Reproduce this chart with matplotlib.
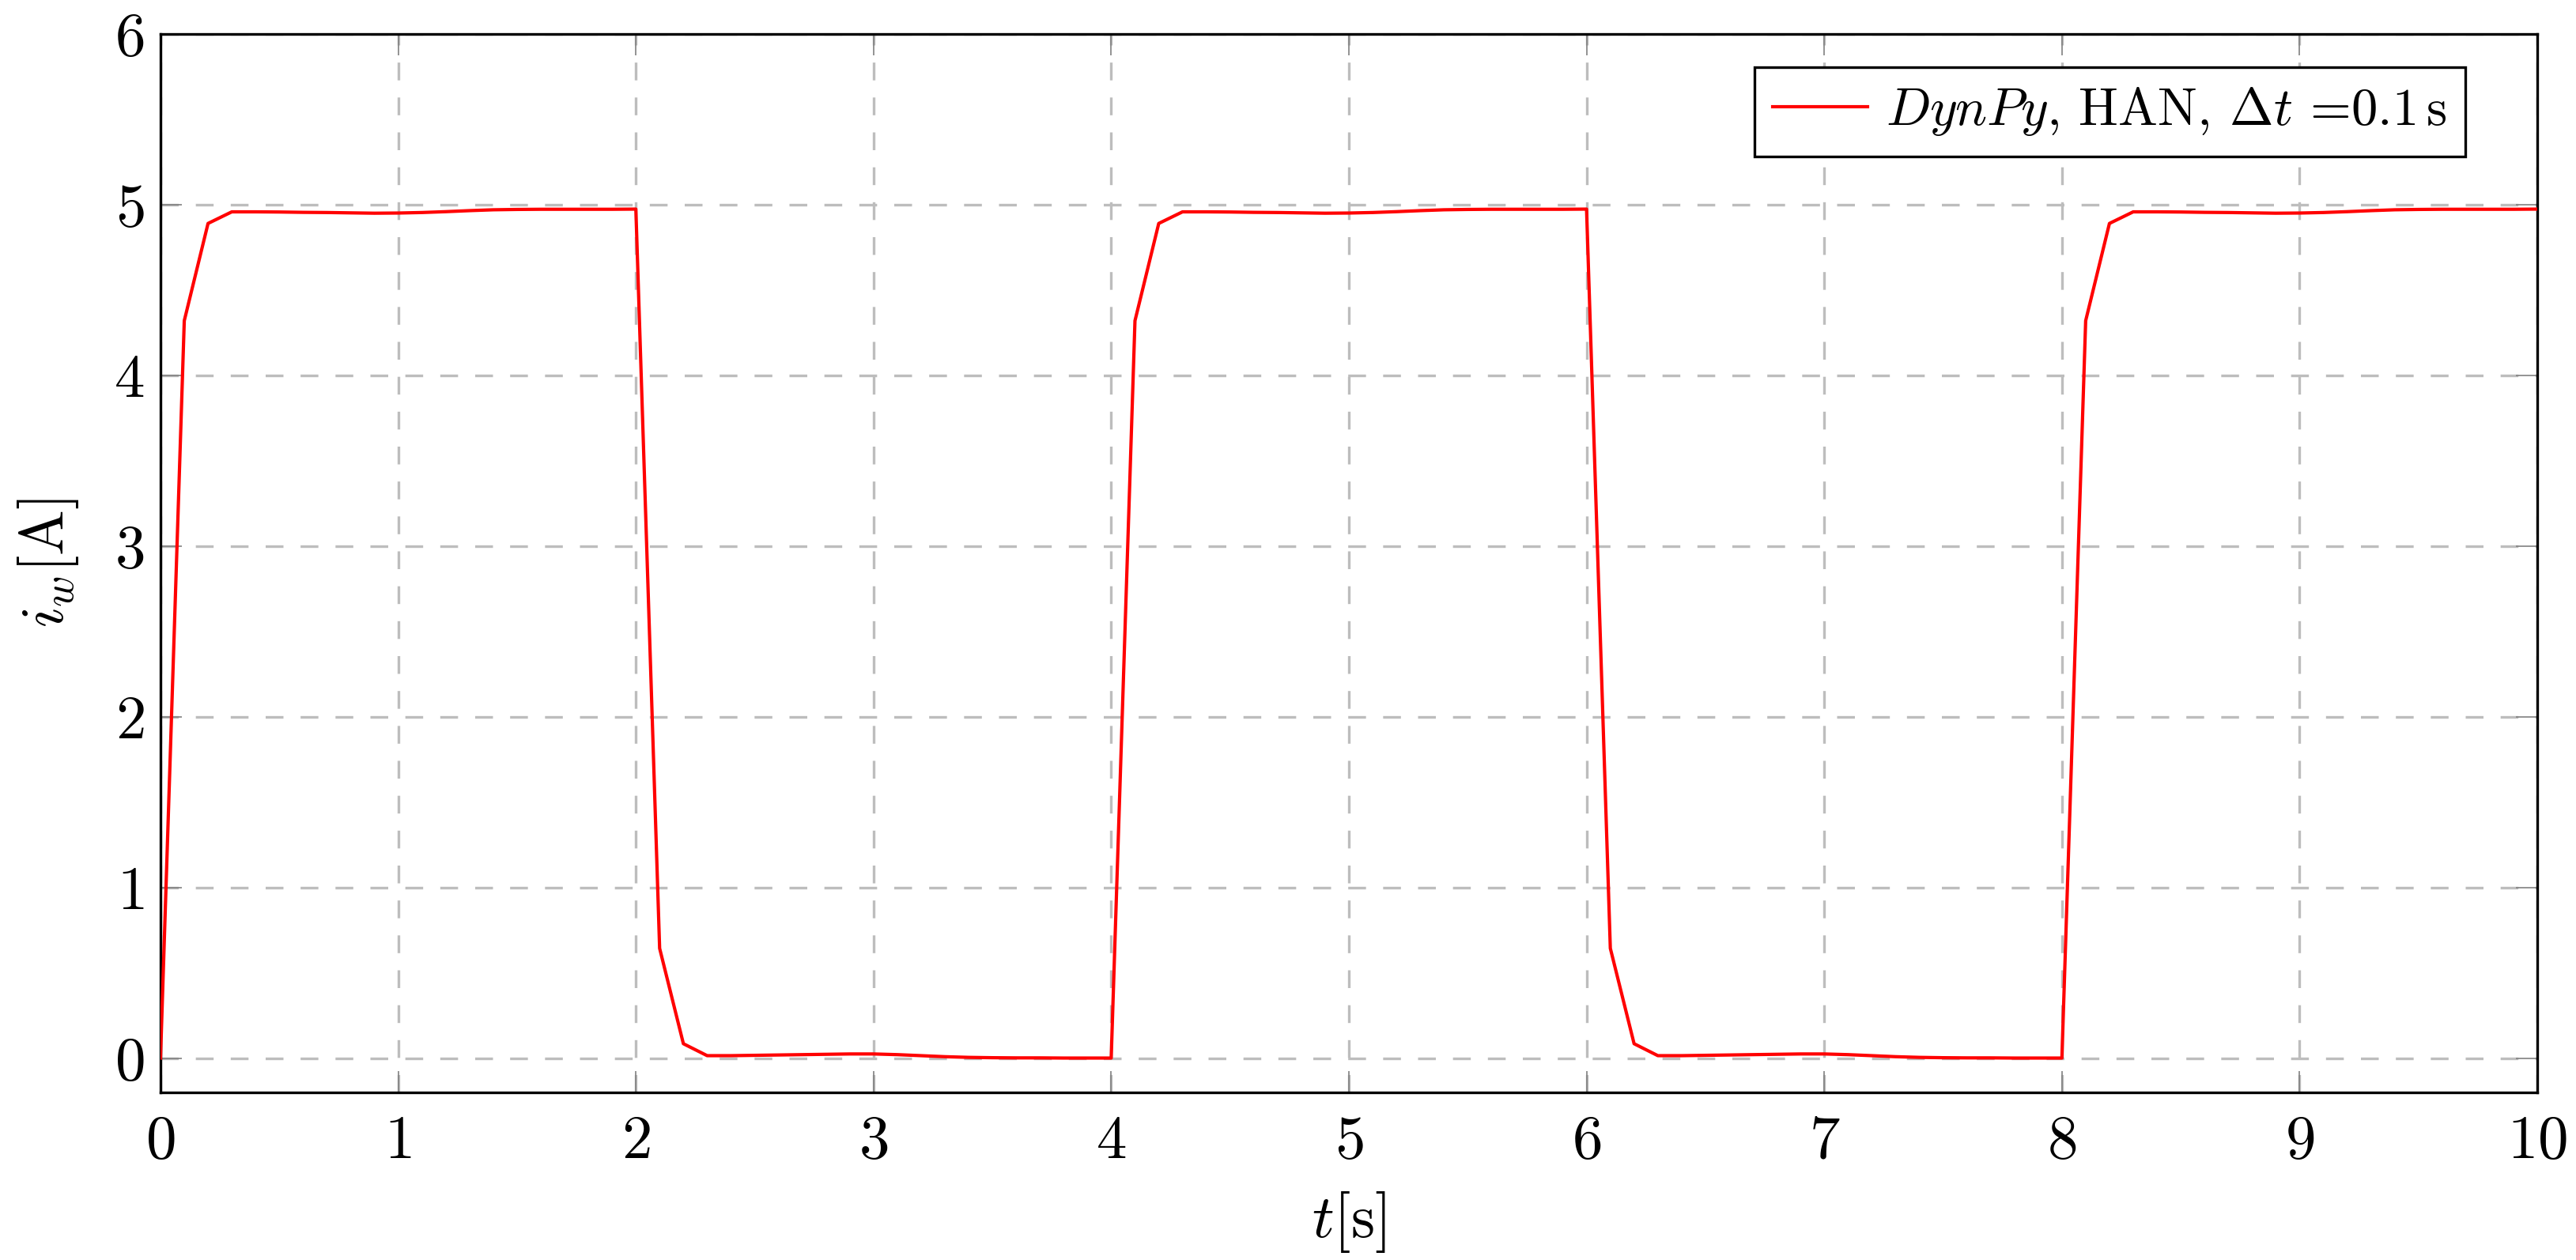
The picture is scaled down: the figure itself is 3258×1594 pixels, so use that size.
import numpy as np
import matplotlib
matplotlib.use("Agg")
import matplotlib.pyplot as plt

plt.rcParams['font.family'] = 'serif'
plt.rcParams['font.serif'] = ['cmr10', 'DejaVu Serif']
plt.rcParams['mathtext.fontset'] = 'cm'
plt.rcParams['axes.formatter.use_mathtext'] = True
plt.rcParams['lines.scale_dashes'] = False

# time samples (s)
t = np.round(np.arange(0, 101) * 0.1, 1)

# winding current i_w [A] at each 0.1 s sample
i_w = [
    0.0, 4.32, 4.89, 4.958, 4.958, 4.957, 4.955, 4.954, 4.952, 4.950,
    4.951, 4.954, 4.959, 4.965, 4.970, 4.972, 4.973, 4.973, 4.973, 4.973,
    4.974, 0.643, 0.084, 0.014, 0.014, 0.016, 0.018, 0.020, 0.022, 0.024,
    0.024, 0.020, 0.014, 0.008, 0.004, 0.002, 0.001, 0.001, 0.0, 0.0,
    0.0, 4.32, 4.89, 4.958, 4.958, 4.957, 4.955, 4.954, 4.952, 4.950,
    4.951, 4.954, 4.959, 4.965, 4.970, 4.972, 4.973, 4.973, 4.973, 4.973,
    4.974, 0.643, 0.084, 0.014, 0.014, 0.016, 0.018, 0.020, 0.022, 0.024,
    0.024, 0.020, 0.014, 0.008, 0.004, 0.002, 0.001, 0.001, 0.0, 0.0,
    0.0, 4.32, 4.89, 4.958, 4.958, 4.957, 4.955, 4.954, 4.952, 4.950,
    4.951, 4.954, 4.959, 4.965, 4.970, 4.972, 4.973, 4.973, 4.973, 4.973,
    4.974,
]

x_ticks = [0, 1, 2, 3, 4, 5, 6, 7, 8, 9, 10]
y_ticks = [0, 1, 2, 3, 4, 5, 6]
legend_label = r"$\mathit{DynPy}$, HAN, $\Delta t$ =0.1$\,$s"

fig = plt.figure(figsize=(3258 / 300, 1594 / 300), dpi=300)
ax = fig.add_axes([203 / 3258, 1 - 1381.7 / 1594, (3209 - 203) / 3258, (1381.7 - 43) / 1594])

ax.plot(t, i_w, color='#ff0000', lw=1.0, label=legend_label, zorder=3)

ax.set_xlim(0, 10)
ax.set_ylim(-0.2, 6)
ax.set_xticks(x_ticks)
ax.set_yticks(y_ticks)
ax.set_xticklabels([f"${v}$" for v in x_ticks])
ax.set_yticklabels([f"${v}$" for v in y_ticks])

ax.grid(True, color='#bdbdbd', lw=0.8, dashes=(5.4, 5.2))
ax.set_axisbelow(True)

ax.tick_params(axis='both', which='major', direction='in', length=6.5, width=0.4,
               color='#808080', labelsize=18.5, top=True, right=True)
ax.tick_params(axis='x', pad=7)
ax.tick_params(axis='y', pad=5)
for s in ax.spines.values():
    s.set_linewidth(0.8)
    s.set_color('black')

ax.set_xlabel(r"$t$[s]", fontsize=18.5, labelpad=6)
ax.set_ylabel(r"$i_w$[A]", fontsize=18.5, labelpad=10)

leg = ax.legend(loc='upper right', bbox_to_anchor=(0.9697, 0.9686), fontsize=16,
                frameon=True, fancybox=False, handlelength=1.8, handletextpad=0.35,
                borderpad=0.35, borderaxespad=0.0, framealpha=1.0)
leg.get_frame().set_edgecolor('black')
leg.get_frame().set_linewidth(0.8)

fig.savefig("out.png", dpi=300)
